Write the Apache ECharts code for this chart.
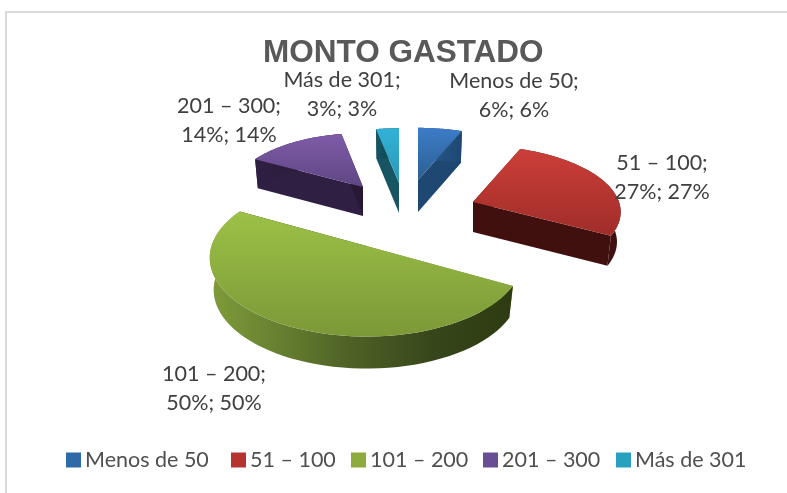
<!DOCTYPE html>
<html><head><meta charset="utf-8">
<style>html,body{margin:0;padding:0;background:#fff}#c{width:787px;height:493px}</style>
<script src="https://cdn.jsdelivr.net/npm/echarts@6/dist/echarts.min.js"></script>
</head><body><div id="c"></div>
<script>
const chartTitle = 'MONTO GASTADO';
const categories = ['Menos de 50', '51 – 100', '101 – 200', '201 – 300', 'Más de 301'];
const percentages = [6, 27, 50, 14, 3];

// Layout of each exploded slice (apex position, radii, extrusion depth), its label anchor and legend position
const sliceLayout = [
  {ax: 418, ay: 180, rx: 136, ry: 60, d: 32, lx: 514, ly: 96, legendX: 66},
  {ax: 473, ay: 202, rx: 146, ry: 65, d: 30, lx: 662, ly: 178, legendX: 231},
  {ax: 366.5, ay: 246, rx: 155, ry: 77, d: 32, lx: 214, ly: 389, legendX: 351},
  {ax: 363, ay: 187, rx: 132, ry: 62, d: 29, lx: 229, ly: 121, legendX: 483},
  {ax: 399, ay: 183, rx: 141, ry: 63, d: 30, lx: 342, ly: 95, legendX: 616}
];
const perspective = 0.15;
const bottomShrink = 0.975;
const topColors = [['#3c7cc8','#2d5f92'],['#cc3e39','#a02d29'],['#9cc146','#7c9838'],['#7f5ba8','#5f4684'],['#32b2d6','#2a98b6']];
const wallColors = [['#2a5c92','#1e4872'],['#4d1512','#40100e'],['#7f9c3a','#2e3b12'],['#2f1f42','#281835'],['#175563','#0f3d4a']];
const legendColors = ['#2f6aa8','#b5342f','#8cad3e','#6a4e94','#2aa0bf'];

const chart = echarts.init(document.getElementById('c'));

function project(l, theta, dy, shrink) {
  const u = Math.sin(theta), v = Math.cos(theta), w = 1 + perspective * v;
  return [l.ax + shrink * l.rx * u / w, l.ay - l.ry * v / w + dy];
}
function grad(c, horiz) {
  const stops = c.length === 2
    ? [{offset: 0, color: c[0]}, {offset: 1, color: c[1]}]
    : c;
  return new echarts.graphic.LinearGradient(0, 0, horiz ? 1 : 0, horiz ? 0 : 1, stops);
}
const total = percentages.reduce((a, b) => a + b, 0);

function makeSeries(i) {
  const before = percentages.slice(0, i).reduce((a, b) => a + b, 0);
  return {
    type: 'custom',
    name: categories[i],
    coordinateSystem: 'none',
    itemStyle: {color: legendColors[i]},
    data: [percentages[i]],
    renderItem: function (params, api) {
      const val = api.value(0), l = sliceLayout[i];
      const a0 = before / total * 2 * Math.PI, a1 = (before + val) / total * 2 * Math.PI;
      const arcTop = [], arcBot = [], n = 60;
      for (let k = 0; k <= n; k++) {
        const t = a0 + (a1 - a0) * k / n;
        arcTop.push(project(l, t, 0, 1));
        arcBot.push(project(l, t, l.d, bottomShrink));
      }
      const apexT = [l.ax, l.ay], apexB = [l.ax, l.ay + l.d];
      const wallFill = i === 2
        ? grad([{offset: 0, color: '#7f9c3a'}, {offset: 0.45, color: '#4f6326'}, {offset: 0.75, color: '#36451a'}, {offset: 1, color: '#2e3b12'}], true)
        : grad(wallColors[i], true);
      const children = [
        {type: 'polygon', shape: {points: [apexT, arcTop[0], arcBot[0], apexB]}, style: {fill: wallColors[i][0]}},
        {type: 'polygon', shape: {points: [apexT, arcTop[n], arcBot[n], apexB]}, style: {fill: wallColors[i][1]}},
        {type: 'polygon', shape: {points: arcTop.concat(arcBot.slice().reverse())}, style: {fill: wallFill}},
        {type: 'polygon', shape: {points: [apexT].concat(arcTop)}, style: {fill: grad(topColors[i], false)}},
        {type: 'text', style: {
          x: l.lx, y: l.ly, text: categories[i] + ';\n' + val + '%; ' + val + '%',
          fill: '#404040', fontFamily: 'Lato', fontSize: 21.5, lineHeight: 29,
          align: 'center', verticalAlign: 'middle'
        }}
      ];
      return {type: 'group', children: children};
    }
  };
}

chart.setOption({
  animation: false,
  backgroundColor: '#ffffff',
  title: {
    text: chartTitle, left: 263, top: 37, padding: 0,
    textStyle: {fontFamily: 'Liberation Sans', fontSize: 31.5, fontWeight: 'bold', color: '#595959'}
  },
  legend: categories.map((c, i) => ({
    left: sliceLayout[i].legendX, top: 449, padding: 0, itemWidth: 15, itemHeight: 15, itemGap: 0, icon: 'rect',
    textStyle: {fontFamily: 'Lato', fontSize: 21.5, color: '#505050', padding: [0, 0, 0, -1]},
    data: [c]
  })),
  graphic: [
    {type: 'line', shape: {x1: 5, y1: 12, x2: 787, y2: 12}, style: {stroke: '#d9d9d9', lineWidth: 2}},
    {type: 'line', shape: {x1: 6, y1: 12, x2: 6, y2: 493}, style: {stroke: '#d9d9d9', lineWidth: 2}}
  ],
  series: categories.map((c, i) => makeSeries(i))
});
</script></body></html>
